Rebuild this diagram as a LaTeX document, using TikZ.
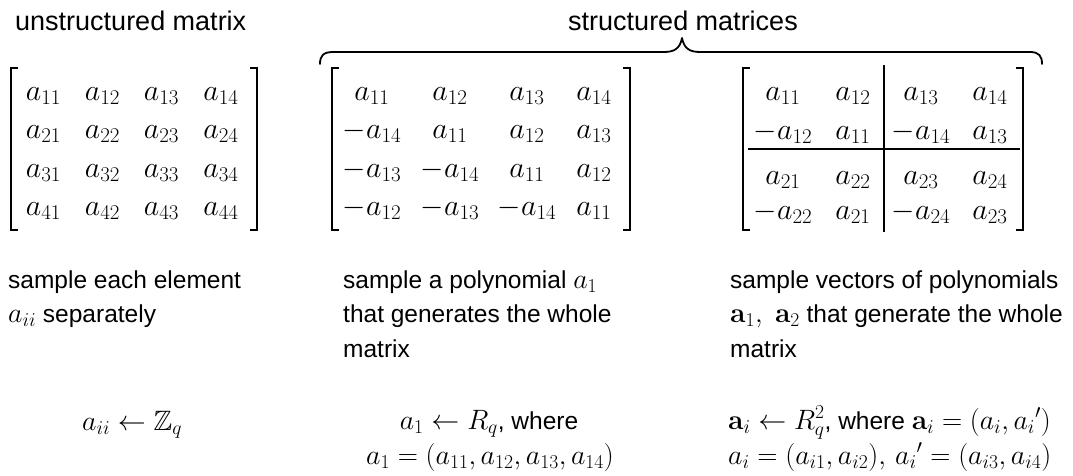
\RequirePackage{fix-cm}
\documentclass[tikz,border=0pt]{standalone}
\usepackage{amssymb}
\usepackage[no-math]{fontspec}
\setmainfont{Liberation Sans}
\newcommand\titlefnt{\fontsize{27}{32}\selectfont}
\newcommand\bodyfnt{\fontsize{24.5}{35}\selectfont}
\newcommand\entfnt{\fontsize{30}{36}\selectfont}
\newcommand\frmfnt{\fontsize{28}{34}\selectfont}
\begin{document}
\begin{tikzpicture}[x=1pt,y=-1pt,
  ent/.style={anchor=base, inner sep=0pt, font=\entfnt},
  txt/.style={anchor=base west, inner sep=0pt, font=\bodyfnt},
  ttl/.style={anchor=base, inner sep=0pt, font=\titlefnt},
  frm/.style={inner sep=0pt, font=\frmfnt},
  brk/.style={line width=1.8pt, line cap=butt},
  rule/.style={line width=1.5pt},
  brace/.style={line width=1.8pt, line cap=round, line join=round}]
\useasboundingbox (0,0) rectangle (1073,475);
% titles
\node[ttl, anchor=base west] (t1) at (15,30) {unstructured matrix};
\node[ttl] (t2) at (683,30) {structured matrices};
% brace
\coordinate (bl) at (320,64);
\coordinate (bc) at (682,38);
\coordinate (br) at (1042,64);
\draw[brace] (bl) .. controls (320,56) and (323,52) .. (333,52) -- (664,52)
  .. controls (675,52) and (680,48) .. (bc)
  .. controls (684,48) and (689,52) .. (700,52) -- (1030,52)
  .. controls (1039,52) and (1042,56) .. (br);
% left matrix
\foreach \x/\c in {43.5/1,102.5/2,161.5/3,221/4}
  \foreach \y/\r in {100/1,138/2,177/3,215/4}
    \node[ent] (L-\r-\c) at (\x,\y) {$a_{\r\c}$};
\draw[brk] (18,68) -| (11,230) -- (18,230);
\draw[brk] (250,68) -| (257,230) -- (250,230);
% middle matrix
\foreach \y/\r/\ea/\eb/\ec/\ed in {
  100/1/a_{11}/a_{12}/a_{13}/a_{14},
  138/2/-a_{14}/a_{11}/a_{12}/a_{13},
  177/3/-a_{13}/-a_{14}/a_{11}/a_{12},
  215/4/-a_{12}/-a_{13}/-a_{14}/a_{11}}{
  \node[ent] (M-\r-1) at (372,\y) {$\ea$};
  \node[ent] (M-\r-2) at (450,\y) {$\eb$};
  \node[ent] (M-\r-3) at (527,\y) {$\ec$};
  \node[ent] (M-\r-4) at (594,\y) {$\ed$};
}
\draw[brk] (339,68) -| (332,230) -- (339,230);
\draw[brk] (623,68) -| (630,230) -- (623,230);
% right matrix
\foreach \y/\r/\ea/\eb/\ec/\ed in {
  100/1/a_{11}/a_{12}/a_{13}/a_{14},
  139/2/-a_{12}/a_{11}/-a_{14}/a_{13},
  184/3/a_{21}/a_{22}/a_{23}/a_{24},
  219/4/-a_{22}/a_{21}/-a_{24}/a_{23}}{
  \node[ent] (R-\r-1) at (783,\y) {$\ea$};
  \node[ent] (R-\r-2) at (853,\y) {$\eb$};
  \node[ent] (R-\r-3) at (921,\y) {$\ec$};
  \node[ent] (R-\r-4) at (990,\y) {$\ed$};
}
\draw[brk] (750,68) -| (743,230) -- (750,230);
\draw[brk] (1016,68) -| (1023,230) -- (1016,230);
\draw[rule] (884,65) -- (884,232);
\draw[rule] (748,149) -- (1020,149);
% descriptions
\node[txt] (d1a) at (8,288) {sample each element};
\node[txt] (d1b) at (8,322) {{\frmfnt$a_{ii}$} separately};
\node[txt] (d2a) at (343,288) {sample a polynomial {\frmfnt$a_1$}};
\node[txt] (d2b) at (343,322) {that generates the whole};
\node[txt] (d2c) at (343,357) {matrix};
\node[txt] (d3a) at (730,288) {sample vectors of polynomials};
\node[txt] (d3b) at (730,322) {{\frmfnt$\mathbf{a}_1,\ \mathbf{a}_2$} that generate the whole};
\node[txt] (d3c) at (730,357) {matrix};
% formulas
\node[frm, anchor=base west] (f1) at (82,430) {$a_{ii} \leftarrow \mathbb{Z}_q$};
\node[frm, anchor=base] (f2a) at (489,429) {$a_1 \leftarrow R_q$\bodyfnt, where};
\node[frm, anchor=base] (f2b) at (490,464) {$a_1 = (a_{11}, a_{12}, a_{13}, a_{14})$};
\node[frm, anchor=base west] (f3a) at (728,429) {$\mathbf{a}_i \leftarrow R_q^2$\bodyfnt, where {\frmfnt$\mathbf{a}_i = (a_i, a_i{}')$}};
\node[frm, anchor=base west] (f3b) at (728,464) {$a_i = (a_{i1}, a_{i2}),\, a_i{}' = (a_{i3}, a_{i4})$};
\end{tikzpicture}
\end{document}
